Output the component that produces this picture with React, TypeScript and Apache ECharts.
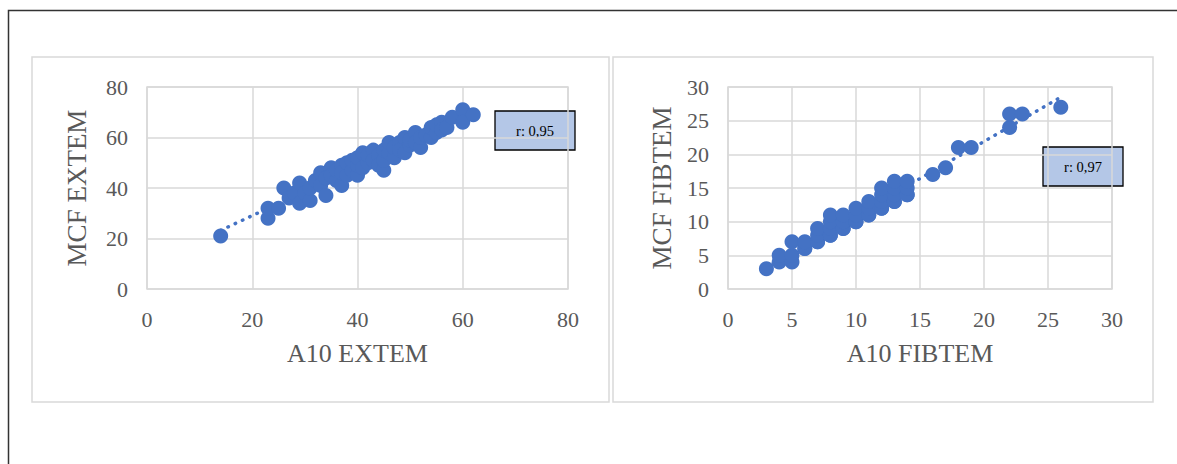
import React, { useEffect, useRef } from "react";
import * as echarts from "echarts";

// A10 vs MCF, EXTEM assay
const extemPoints: [number, number][] = [
  [14, 21], [23, 28], [23, 32], [25, 32], [26, 40], [27, 36], [28, 38], [29, 34],
  [29, 42], [30, 38], [31, 35], [31, 40], [32, 43], [33, 46], [33, 41], [34, 37],
  [34, 44], [35, 48], [35, 45], [36, 43], [36, 47], [37, 41], [37, 49], [37, 46],
  [38, 45], [38, 50], [39, 47], [39, 51], [40, 45], [40, 49], [40, 52], [41, 54],
  [41, 48], [42, 50], [42, 53], [43, 55], [43, 51], [44, 53], [44, 49], [45, 47],
  [45, 51], [45, 55], [46, 54], [46, 58], [47, 52], [47, 56], [48, 58], [48, 55],
  [49, 54], [49, 60], [50, 57], [50, 59], [51, 62], [51, 58], [52, 56], [52, 60],
  [53, 61], [54, 60], [54, 64], [55, 62], [55, 65], [56, 66], [56, 63], [57, 64],
  [58, 68], [60, 71], [60, 66], [62, 69],
];

// A10 vs MCF, FIBTEM assay
const fibtemPoints: [number, number][] = [
  [3, 3], [4, 4], [4, 5], [5, 4], [5, 5], [5, 7], [6, 6], [6, 6], [6, 7], [7, 7],
  [7, 7], [7, 8], [7, 9], [8, 8], [8, 8], [8, 9], [8, 10], [8, 11], [9, 9], [9, 9],
  [9, 10], [9, 11], [10, 10], [10, 10], [10, 11], [10, 12], [11, 11], [11, 11],
  [11, 12], [11, 13], [12, 12], [12, 12], [12, 13], [12, 14], [12, 15], [13, 13],
  [13, 13], [13, 14], [13, 15], [13, 16], [14, 14], [14, 14], [14, 15], [14, 16],
  [16, 17], [17, 18], [18, 21], [19, 21], [22, 24], [22, 26], [23, 26], [26, 27],
];

const extemScale = { min: 0, max: 80, interval: 20 };
const fibtemScale = { min: 0, max: 30, interval: 5 };

const extemTitles = { x: "A10 EXTEM", y: "MCF EXTEM" };
const fibtemTitles = { x: "A10 FIBTEM", y: "MCF FIBTEM" };
const correlationLabels = ["r: 0,95", "r: 0,97"];

const BLUE = "#4472C4";
const GRID = "#d9d9d9";
const TEXT = "#595959";
const SERIF = "'Liberation Serif', 'Times New Roman', serif";

// Least-squares line across the observed x range
function linearTrend(points: [number, number][]): [number, number][] {
  const n = points.length;
  let sx = 0, sy = 0, sxx = 0, sxy = 0;
  for (const [x, y] of points) {
    sx += x; sy += y; sxx += x * x; sxy += x * y;
  }
  const slope = (n * sxy - sx * sy) / (n * sxx - sx * sx);
  const intercept = (sy - slope * sx) / n;
  const xs = points.map((p) => p[0]);
  const lo = Math.min(...xs);
  const hi = Math.max(...xs);
  return [
    [lo, intercept + slope * lo],
    [hi, intercept + slope * hi],
  ];
}

function valueAxis(
  scale: { min: number; max: number; interval: number },
  gridIndex: number,
  name: string,
  isX: boolean,
  nameGap: number
) {
  return {
    type: "value",
    gridIndex,
    min: scale.min,
    max: scale.max,
    interval: scale.interval,
    name,
    nameLocation: "middle",
    nameGap,
    nameTextStyle: { color: TEXT, fontFamily: SERIF, fontSize: isX ? 26 : 27 },
    axisLine: { show: false },
    axisTick: { show: false },
    axisLabel: {
      color: TEXT,
      fontFamily: SERIF,
      fontSize: 22,
      margin: isX ? 19 : 19,
    },
    splitLine: { show: true, lineStyle: { color: GRID, width: 1.5 } },
  };
}

export default function App() {
  const ref = useRef<HTMLDivElement>(null);

  useEffect(() => {
    if (!ref.current) return;
    const chart = echarts.init(ref.current, undefined, { renderer: "svg" });

    const scatter = (data: [number, number][], idx: number) => ({
      type: "scatter",
      xAxisIndex: idx,
      yAxisIndex: idx,
      data,
      symbol: "circle",
      symbolSize: 15,
      itemStyle: { color: BLUE, opacity: 1 },
      z: 3,
    });

    const trend = (data: [number, number][], idx: number) => ({
      type: "line",
      xAxisIndex: idx,
      yAxisIndex: idx,
      data: linearTrend(data),
      symbol: "none",
      lineStyle: { color: BLUE, width: 3.5, type: [0.5, 7.5], cap: "round" },
      z: 2,
    });

    const rBox = (x: number, y: number, label: string) => ({
      type: "group",
      x,
      y,
      children: [
        {
          type: "rect",
          shape: { x: 0, y: 0, width: 80, height: 39 },
          style: { fill: "#b4c7e7", stroke: "#000", lineWidth: 1.3 },
        },
        {
          type: "text",
          x: 40,
          y: 20,
          style: {
            text: label,
            fill: "#000",
            font: `14.5px ${SERIF}`,
            textAlign: "center",
            textVerticalAlign: "middle",
          },
        },
      ],
      z: 10,
    });

    chart.setOption({
      animation: false,
      backgroundColor: "#fff",
      grid: [
        { left: 147, top: 87, width: 421, height: 202, show: true, borderColor: GRID, borderWidth: 1.5 },
        { left: 728, top: 87, width: 384, height: 202, show: true, borderColor: GRID, borderWidth: 1.5 },
      ],
      xAxis: [
        valueAxis(extemScale, 0, extemTitles.x, true, 51),
        valueAxis(fibtemScale, 1, fibtemTitles.x, true, 51),
      ],
      yAxis: [
        valueAxis(extemScale, 0, extemTitles.y, false, 57),
        valueAxis(fibtemScale, 1, fibtemTitles.y, false, 53),
      ],
      series: [
        trend(extemPoints, 0),
        scatter(extemPoints, 0),
        trend(fibtemPoints, 1),
        scatter(fibtemPoints, 1),
      ],
      graphic: [
        // outer frame (top and left edges)
        {
          type: "polyline",
          shape: { points: [[8.5, 464], [8.5, 10.5], [1177, 10.5]] },
          style: { stroke: "#333", lineWidth: 1.5, fill: null },
          z: 1,
        },
        // chart panels
        {
          type: "rect",
          shape: { x: 32, y: 57, width: 577, height: 345 },
          style: { fill: null, stroke: GRID, lineWidth: 1.5 },
          z: 1,
        },
        {
          type: "rect",
          shape: { x: 613, y: 57, width: 540, height: 345 },
          style: { fill: null, stroke: GRID, lineWidth: 1.5 },
          z: 1,
        },
        rBox(495, 111, correlationLabels[0]),
        rBox(1043, 147, correlationLabels[1]),
      ],
    });

    return () => chart.dispose();
  }, []);

  return (
    <div
      ref={ref}
      style={{ position: "fixed", left: 0, top: 0, width: 1177, height: 464 }}
    />
  );
}
